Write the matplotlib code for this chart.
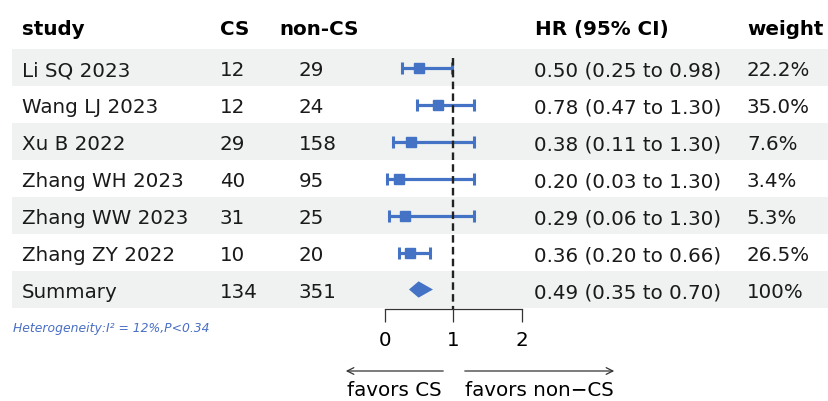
import numpy as np
import matplotlib
matplotlib.use("Agg")
import matplotlib.pyplot as plt

studies = ["Li SQ 2023", "Wang LJ 2023", "Xu B 2022", "Zhang WH 2023",
           "Zhang WW 2023", "Zhang ZY 2022"]
n_cs = [12, 12, 29, 40, 31, 10]
n_noncs = [29, 24, 158, 95, 25, 20]
hr = [0.50, 0.78, 0.38, 0.20, 0.29, 0.36]
hr_lo = [0.25, 0.47, 0.11, 0.03, 0.06, 0.20]
hr_hi = [0.98, 1.30, 1.30, 1.30, 1.30, 0.66]
weights = [22.2, 35.0, 7.6, 3.4, 5.3, 26.5]

sum_cs, sum_noncs = 134, 351
sum_hr, sum_lo, sum_hi = 0.49, 0.35, 0.70
het_text = "Heterogeneity:I² = 12%,P<0.34"

blue = "#4472C4"
band = "#eff2f1"
W, H = 829, 401

plt.rcParams["font.family"] = "DejaVu Sans"
fig = plt.figure(figsize=(W / 100, H / 100), dpi=100)

# background axes: x in pixels, y in row units (row i centred at 67.5 + 37 i px)
bg = fig.add_axes([0, 0, 1, 1])
bg.set_xlim(0, W)
bg.set_ylim((H - 67.5) / 37, -67.5 / 37)
bg.axis("off")

nrows = len(studies) + 1
for i in range(0, nrows, 2):
    bg.axhspan(i - 0.5, i + 0.5, xmin=12 / W, xmax=1, color=band, lw=0)

fs = 14.3
cols = {"study": 22, "cs": 220, "noncs_h": 279, "noncs": 299, "hr": 535, "w": 747}
hy = -0.878
for key, lab in [("study", "study"), ("cs", "CS"), ("noncs_h", "non-CS"),
                 ("hr", "HR (95% CI)"), ("w", "weight")]:
    bg.text(cols[key], hy, lab, fontsize=fs, fontweight="bold", va="baseline")

rows_txt = []
for k in range(len(studies)):
    rows_txt.append((studies[k], n_cs[k], n_noncs[k],
                     f"{hr[k]:.2f} ({hr_lo[k]:.2f} to {hr_hi[k]:.2f})",
                     f"{weights[k]:.1f}%"))
rows_txt.append(("Summary", sum_cs, sum_noncs,
                 f"{sum_hr:.2f} ({sum_lo:.2f} to {sum_hi:.2f})", "100%"))

for i, (s, a, b, h, w) in enumerate(rows_txt):
    y = i + 0.23
    bg.text(cols["study"], y, s, fontsize=fs, va="baseline", color="#1a1a1a")
    bg.text(cols["cs"], y, str(a), fontsize=fs, va="baseline", color="#1a1a1a")
    bg.text(cols["noncs"], y, str(b), fontsize=fs, va="baseline", color="#1a1a1a")
    bg.text(cols["hr"] - 1, y, h, fontsize=fs, va="baseline", color="#1a1a1a")
    bg.text(cols["w"], y, w, fontsize=fs, va="baseline", color="#1a1a1a")

bg.text(13, (332 - 67.5) / 37, het_text, fontsize=8.9, style="italic",
        color="#4a6fc4", va="baseline")

# forest axes: x = HR, 0..2 mapped to pixels 385..522
x0, x1 = 385, 522
ytop, ybot = 49, 309
ax = fig.add_axes([x0 / W, (H - ybot) / H, (x1 - x0) / W, (ybot - ytop) / H])
ax.patch.set_alpha(0)
ax.set_xlim(0, 2)
ax.set_ylim((ybot - 67.5) / 37, -0.5)
for sp in ["top", "left", "right"]:
    ax.spines[sp].set_visible(False)
ax.spines["bottom"].set_linewidth(0.9)
ax.spines["bottom"].set_color("#333333")
ax.set_yticks([])
ax.set_xticks([0, 1, 2])
ax.tick_params(axis="x", direction="out", length=9.5, width=0.9, color="#333333",
               pad=6, labelsize=fs)

ypos = np.arange(len(studies))
hr_a = np.array(hr)
ax.errorbar(hr_a, ypos, xerr=[hr_a - np.array(hr_lo), np.array(hr_hi) - hr_a],
            fmt="s", ms=6.5, color=blue, ecolor=blue, elinewidth=2.3,
            capsize=4, capthick=2.2, zorder=3)

yd = len(studies)
dh = 0.22
ax.fill([sum_lo, sum_hr, sum_hi, sum_hr], [yd, yd - dh, yd, yd + dh],
        color=blue, lw=0, zorder=3)

ax.plot([1, 1], [(58 - 67.5) / 37, (ybot - 67.5) / 37], color="#222222",
        lw=1.7, linestyle=(0, (3.2, 1.8)), zorder=4)

# direction arrows below the axis
ya = 1 - 371 / H
fig.add_artist(matplotlib.patches.FancyArrowPatch(
    (446 / W, ya), (343 / W, ya), transform=fig.transFigure,
    arrowstyle="->", mutation_scale=12, lw=0.9, color="#333333"))
fig.add_artist(matplotlib.patches.FancyArrowPatch(
    (462 / W, ya), (617 / W, ya), transform=fig.transFigure,
    arrowstyle="->", mutation_scale=12, lw=0.9, color="#333333"))
fig.text(394.5 / W, 1 - 390 / H, "favors CS", fontsize=fs, ha="center", va="center")
fig.text(539.5 / W, 1 - 390 / H, "favors non\u2212CS", fontsize=fs, ha="center",
         va="center")

fig.savefig("out.png", dpi=100)
